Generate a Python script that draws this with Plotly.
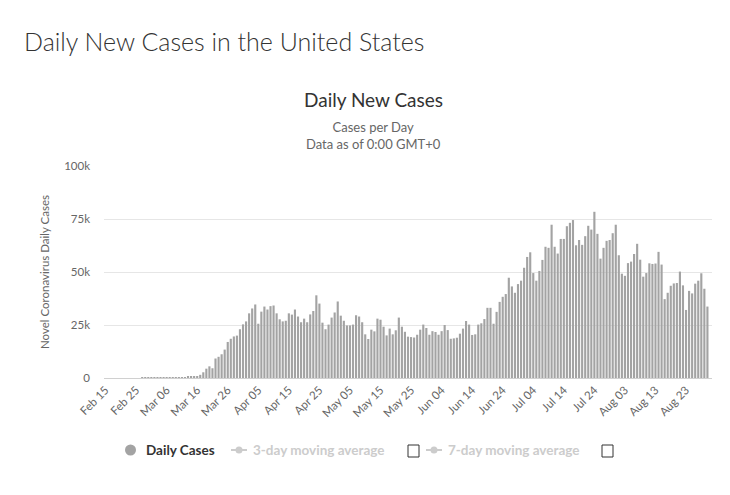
import plotly.graph_objects as go
import datetime as dt

start = dt.date(2020, 2, 15)

# Daily new cases, Feb 15 2020 onward (one value per day)
feb_vals = [0, 0, 0, 0, 0, 0, 1, 0, 0, 0, 1, 2, 5, 3, 5]          # Feb 15 - Feb 29
mar_early = [7, 23, 20, 31, 68, 45, 140, 116, 65, 376, 322, 382, 516, 548]  # Mar 1 - Mar 14
daily_cases = feb_vals + mar_early + [
    600, 900, 1500, 2700, 4400, 5500, 4600, 9200, 10000, 11200,
    13400, 17000, 18500, 19600, 20000, 23000, 25300, 26700, 30500, 32800,
    34700, 25600, 31300, 33700, 32300, 33900, 34200, 30500, 27700, 26700,
    27000, 30500, 29900, 32300, 29000, 26300, 28000, 26300, 30000, 31600,
    39000, 35100, 26100, 23000, 25200, 28500, 30900, 36100, 29400, 27000,
    24800, 24800, 25200, 29600, 29000, 26300, 20600, 18400, 22800, 22000,
    28000, 27500, 24200, 20100, 23300, 20600, 22500,
    28500, 24200, 21800, 19500, 19300, 19100, 20400, 22800, 25200, 23600,
    20400, 22100, 21700, 20400, 22100, 25000, 22600, 18500, 18700, 19000,
    20900, 23300, 26900, 25200, 20300, 20600, 25200, 25800, 27800, 33100,
    33100, 25600, 31200, 35900, 38300, 39600, 47300, 43200, 40200, 44300,
    45900, 52000, 57100, 59300, 49500, 45900, 50500, 55700, 61900, 61400,
    72300, 61900, 58700, 65600, 65600, 71600, 73200, 74500, 62600, 65100,
    62800, 66900, 71800, 70000, 78400, 68000, 56300, 61400, 64700, 65100,
    68300, 72300, 57900, 49200, 48200, 54200, 54900, 58500, 63300, 55800,
    47800, 49500, 54100, 53800, 54000, 59500, 53500, 37200, 40200, 43500,
    44600, 44800, 50200, 43700, 32100, 41100, 39900, 44500, 45900, 49400,
    42100, 33700,
]
dates = [start + dt.timedelta(days=i) for i in range(len(daily_cases))]

tick_dates = [start + dt.timedelta(days=10 * k) for k in range(20)]
tick_labels = ["Feb 15", "Feb 25", "Mar 06", "Mar 16", "Mar 26", "Apr 05", "Apr 15",
               "Apr 25", "May 05", "May 15", "May 25", "Jun 04", "Jun 14", "Jun 24",
               "Jul 04", "Jul 14", "Jul 24", "Aug 03", "Aug 13", "Aug 23"]
y_ticks = [0, 25000, 50000, 75000, 100000]
y_labels = ["0", "25k", "50k", "75k", "100k"]

FONT = "Lato"
fig = go.Figure()
fig.add_trace(go.Bar(x=dates, y=daily_cases, marker=dict(color="#a3a3a3", line=dict(width=0)),
                     name="Daily Cases", showlegend=False))

x0 = dt.datetime(2020, 2, 14, 12)
x1 = x0 + dt.timedelta(days=199)

# page body has an 8px offset; plot area on the page spans x 104..712, y 166..378
fig.update_layout(
    width=730, height=495,
    margin=dict(l=96, r=26, t=158, b=125),
    paper_bgcolor="white", plot_bgcolor="white",
    bargap=0.3,
    font=dict(family=FONT, color="#666666", size=11),
    xaxis=dict(type="date", range=[x0, x1], tickvals=tick_dates, ticktext=tick_labels,
               tickangle=-45, showgrid=False, showline=True, linecolor="#d0d0d0",
               linewidth=1, ticks="", tickfont=dict(size=11.5, color="#666666"),
               fixedrange=True),
    yaxis=dict(range=[0, 100000], tickvals=y_ticks, ticktext=y_labels,
               showgrid=True, gridcolor="#e6e6e6", zeroline=False, ticks="",
               ticklabelstandoff=13,
               tickfont=dict(size=11.5, color="#666666"),
               title=dict(text="Novel Coronavirus Daily Cases", font=dict(size=11.5, color="#666666"),
                          standoff=12)),
)

def px(x):
    return (x - 104) / 608

def py(y):
    return (378 - y) / 212

annotations = [
    dict(text="Daily New Cases in the United States", xref="paper", yref="paper",
         x=px(22), y=py(41), xanchor="left", yanchor="middle", showarrow=False,
         font=dict(size=25, color="#333333", family=FONT, weight=300)),
    dict(text="Daily New Cases", xref="paper", yref="paper", x=px(373), y=py(100),
         xanchor="center", yanchor="middle", showarrow=False,
         font=dict(size=19, color="#333333", family=FONT)),
    dict(text="Cases per Day<br>Data as of 0:00 GMT+0", xref="paper", yref="paper",
         x=px(373), y=py(136), xanchor="center", yanchor="middle", showarrow=False,
         font=dict(size=13, color="#666666", family=FONT)),
    dict(text="<b>Daily Cases</b>", xref="paper", yref="paper", x=px(144),
         y=py(450), xanchor="left", yanchor="middle", showarrow=False,
         font=dict(size=13.5, color="#333333", family=FONT)),
    dict(text="<b>3-day moving average</b>", xref="paper", yref="paper", x=px(251),
         y=py(450), xanchor="left", yanchor="middle", showarrow=False,
         font=dict(size=13.5, color="#cccccc", family=FONT)),
    dict(text="<b>7-day moving average</b>", xref="paper", yref="paper", x=px(446),
         y=py(450), xanchor="left", yanchor="middle", showarrow=False,
         font=dict(size=13.5, color="#cccccc", family=FONT)),
]

shapes = [
    dict(type="circle", xref="paper", yref="paper", x0=px(125), x1=px(136), y0=py(455.5), y1=py(444.5),
         fillcolor="#a3a3a3", line=dict(width=0)),
    dict(type="line", xref="paper", yref="paper", x0=px(231), x1=px(247), y0=py(450), y1=py(450),
         line=dict(color="#cccccc", width=2)),
    dict(type="circle", xref="paper", yref="paper", x0=px(235.5), x1=px(242.5), y0=py(453.5), y1=py(446.5),
         fillcolor="#cccccc", line=dict(width=0)),
    dict(type="rect", xref="paper", yref="paper", x0=px(408), x1=px(419), y0=py(457), y1=py(445),
         fillcolor="white", line=dict(color="#333333", width=1)),
    dict(type="line", xref="paper", yref="paper", x0=px(426), x1=px(442), y0=py(450), y1=py(450),
         line=dict(color="#cccccc", width=2)),
    dict(type="circle", xref="paper", yref="paper", x0=px(430.5), x1=px(437.5), y0=py(453.5), y1=py(446.5),
         fillcolor="#cccccc", line=dict(width=0)),
    dict(type="rect", xref="paper", yref="paper", x0=px(602), x1=px(613), y0=py(457), y1=py(445),
         fillcolor="white", line=dict(color="#333333", width=1)),
]
fig.update_layout(annotations=annotations, shapes=shapes)

fig.write_html("out.html")
